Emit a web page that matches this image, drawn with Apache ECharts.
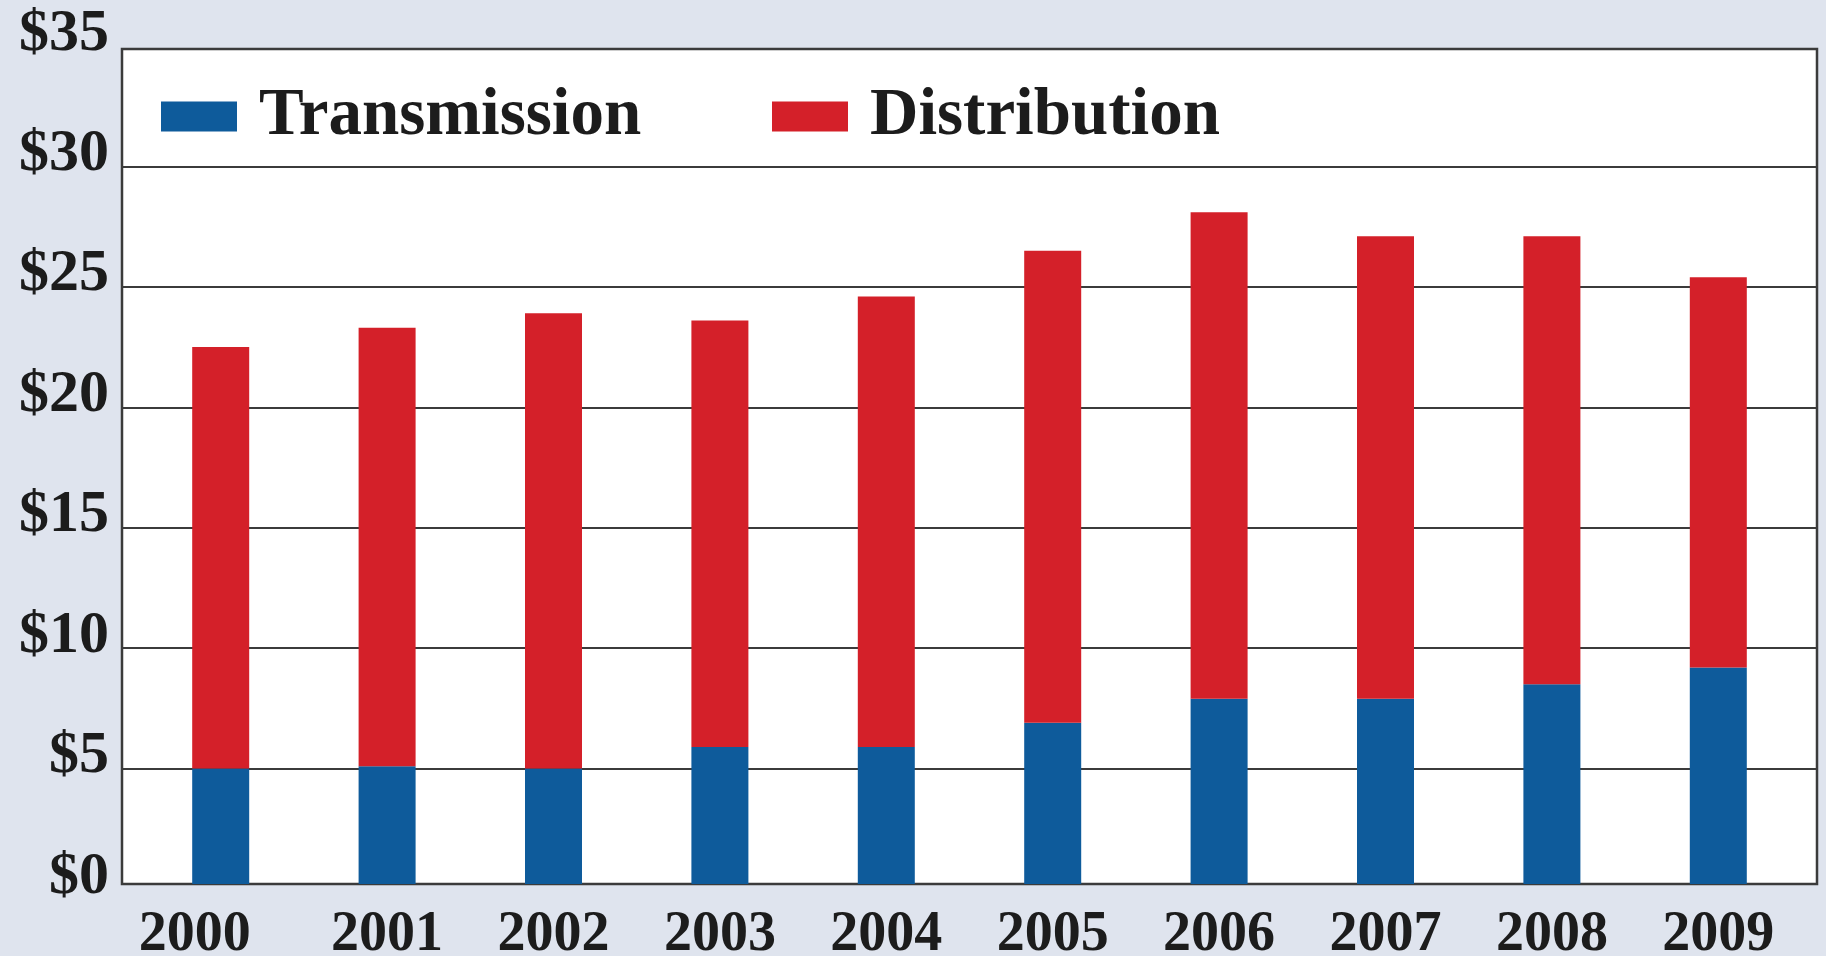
<!DOCTYPE html>
<html>
<head>
<meta charset="utf-8">
<title>Transmission and Distribution</title>
<script src="https://cdn.jsdelivr.net/npm/echarts@6/dist/echarts.min.js"></script>
<style>
  html, body { margin: 0; padding: 0; background: #dfe4ee; }
  #chart { width: 1826px; height: 956px; }
</style>
</head>
<body>
<div id="chart"></div>
<script>
// Yearly spending, in dollars (billions)
const years = ['2000', '2001', '2002', '2003', '2004', '2005', '2006', '2007', '2008', '2009'];
const transmission = [5.0, 5.1, 5.0, 5.9, 5.9, 6.9, 7.9, 7.9, 8.5, 9.2];
const distribution = [17.5, 18.2, 18.9, 17.7, 18.7, 19.6, 20.2, 19.2, 18.6, 16.2];
const yTicks = { min: 0, max: 35, step: 5 };

const FONT = '"Liberation Serif", "Times New Roman", serif';
const BLUE = '#0e5b9b';
const RED = '#d42029';
const INK = '#1c1c1c';
const RULE = '#3b3b3b';
const BG = '#dfe4ee';

// Layout: the dollar scale runs a little beyond the drawn frame at both ends.
const scaleTop = 46, scaleBottom = 889;     // pixel rows of $35 and $0
const frameTop = 49, frameBottom = 884;     // pixel rows of the frame edges
const frameLeft = 122, frameWidth = 1695;
const bandLeft = 137.5, bandWidth = 1664;   // span holding the ten year slots
const unitPx = (scaleBottom - scaleTop) / (yTicks.max - yTicks.min);
const frameMin = yTicks.min + (scaleBottom - frameBottom) / unitPx;
const frameMax = yTicks.max - (frameTop - scaleTop) / unitPx;

const legendText = { fontFamily: FONT, fontWeight: 'bold', fontSize: 67, color: INK,
                     lineHeight: 67, padding: [0, 0, 0, 17] };

// the first year label sits a bit to the left of its bar
const yearLabels = years.map((y, i) => i === 0 ? { value: y, textStyle: { padding: [0, 52, 0, 0] } } : y);

const chart = echarts.init(document.getElementById('chart'), null, { renderer: 'canvas' });

chart.setOption({
  backgroundColor: BG,
  animation: false,
  grid: [
    // white framed panel
    { left: frameLeft, top: frameTop, width: frameWidth, height: frameBottom - frameTop, show: true,
      backgroundColor: '#ffffff', borderColor: RULE, borderWidth: 2.5, outerBoundsMode: 'none' },
    // dollar scale with its horizontal rules
    { left: frameLeft, top: scaleTop, width: frameWidth, height: scaleBottom - scaleTop,
      outerBoundsMode: 'none' },
    // year slots holding the stacked bars
    { left: bandLeft, top: frameTop, width: bandWidth, height: frameBottom - frameTop,
      outerBoundsMode: 'none' }
  ],
  legend: [
    { data: ['Transmission'], left: 156, top: 78, icon: 'rect',
      itemWidth: 76, itemHeight: 30, selectedMode: false, textStyle: legendText },
    { data: ['Distribution'], left: 767, top: 78, icon: 'rect',
      itemWidth: 76, itemHeight: 30, selectedMode: false, textStyle: legendText }
  ],
  xAxis: [
    { gridIndex: 0, type: 'value', min: 0, max: 1, show: false },
    { gridIndex: 1, type: 'value', min: 0, max: 1, show: false },
    { gridIndex: 2, type: 'category', data: yearLabels,
      axisLine: { show: false }, axisTick: { show: false },
      axisLabel: { fontFamily: FONT, fontWeight: 'bold', fontSize: 56, color: INK, margin: 24 } }
  ],
  yAxis: [
    { gridIndex: 0, type: 'value', min: 0, max: 1, show: false },
    { gridIndex: 1, type: 'value', min: yTicks.min, max: yTicks.max, interval: yTicks.step,
      axisLine: { show: false }, axisTick: { show: false },
      splitLine: { show: true, showMinLine: false, showMaxLine: false,
                   lineStyle: { color: RULE, width: 2 } },
      axisLabel: { fontFamily: FONT, fontWeight: 'bold', fontSize: 60, color: INK, margin: 13,
                   formatter: v => '$' + v, verticalAlign: 'bottom', lineHeight: 24 } },
    { gridIndex: 2, type: 'value', min: frameMin, max: frameMax, show: false }
  ],
  series: [
    { name: 'Transmission', type: 'bar', stack: 'total', xAxisIndex: 2, yAxisIndex: 2,
      barWidth: 57, data: transmission, itemStyle: { color: BLUE } },
    { name: 'Distribution', type: 'bar', stack: 'total', xAxisIndex: 2, yAxisIndex: 2,
      barWidth: 57, data: distribution, itemStyle: { color: RED } }
  ]
});
</script>
</body>
</html>
